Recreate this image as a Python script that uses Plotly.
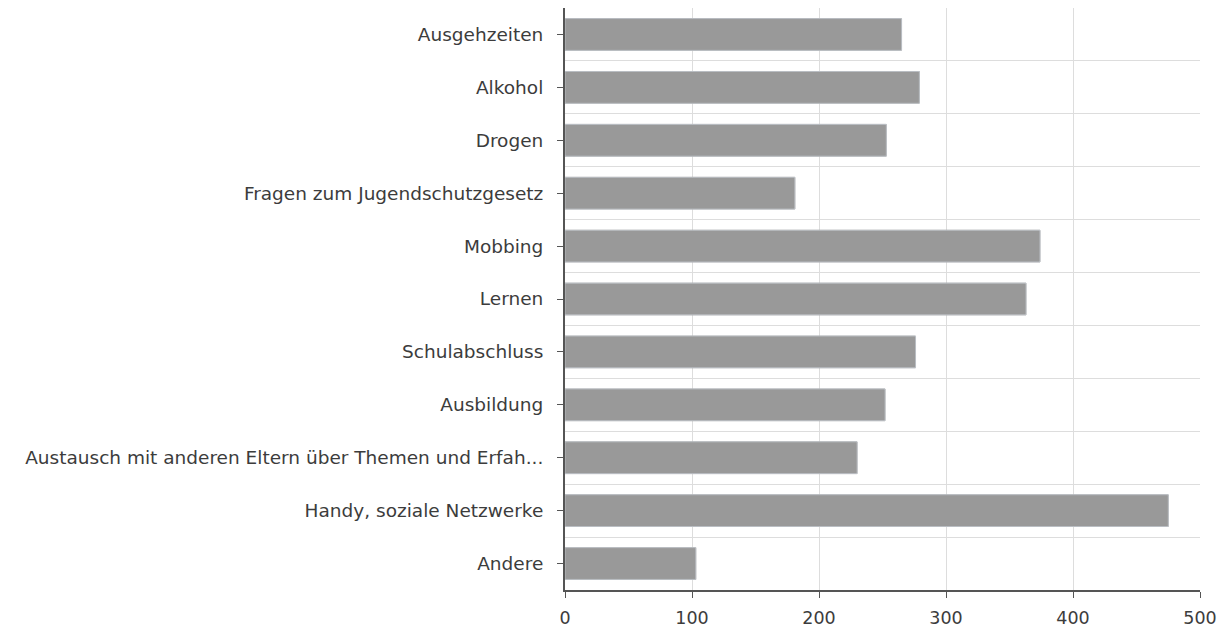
import plotly.graph_objects as go

categories = [
    "Ausgehzeiten",
    "Alkohol",
    "Drogen",
    "Fragen zum Jugendschutzgesetz",
    "Mobbing",
    "Lernen",
    "Schulabschluss",
    "Ausbildung",
    "Austausch mit anderen Eltern über Themen und Erfah...",
    "Handy, soziale Netzwerke",
    "Andere",
]
values = [265, 279, 253, 181, 374, 363, 276, 252, 230, 475, 103]
x_ticks = [0, 100, 200, 300, 400, 500]

yfont = dict(family="DejaVu Sans, Verdana, sans-serif", size=18.5, color="#3c3c3c")
xfont = dict(family="DejaVu Sans, Verdana, sans-serif", size=17.5, color="#3c3c3c")

fig = go.Figure()
fig.add_trace(go.Bar(
    y=categories, x=values, orientation="h",
    marker=dict(color="#999999", line=dict(color="#8f8f8f", width=1)),
    hoverinfo="x+y",
))
# invisible trace to carry the boundary gridlines axis
fig.add_trace(go.Bar(
    y=categories, x=values, orientation="h", yaxis="y2",
    marker=dict(color="rgba(0,0,0,0)"), hoverinfo="skip", showlegend=False,
))

fig.update_layout(
    width=1223, height=627,
    margin=dict(l=565, r=23, t=8, b=37),
    paper_bgcolor="white", plot_bgcolor="white",
    showlegend=False, bargap=0.4, font=yfont,
    xaxis=dict(
        range=[0, 500], tickvals=x_ticks, ticks="outside", ticklen=6,
        tickcolor="#555555", showline=True, linecolor="#555555", linewidth=2,
        showgrid=True, gridcolor="#dddddd", gridwidth=1, zeroline=False,
        tickfont=xfont, ticklabelstandoff=5, automargin=False,
    ),
    yaxis=dict(
        type="category", categoryorder="array", categoryarray=categories,
        autorange="reversed", ticks="outside", ticklen=6, tickcolor="#555555",
        showline=True, linecolor="#555555", linewidth=2, showgrid=False,
        ticklabelstandoff=10, tickfont=yfont, automargin=False,
    ),
    yaxis2=dict(
        type="category", categoryorder="array", categoryarray=categories,
        autorange="reversed", overlaying="y", side="left",
        tickson="boundaries", showgrid=True, gridcolor="#dddddd", gridwidth=1,
        ticks="", showticklabels=False, showline=False, zeroline=False,
        automargin=False,
    ),
)

fig.write_html("out.html")
